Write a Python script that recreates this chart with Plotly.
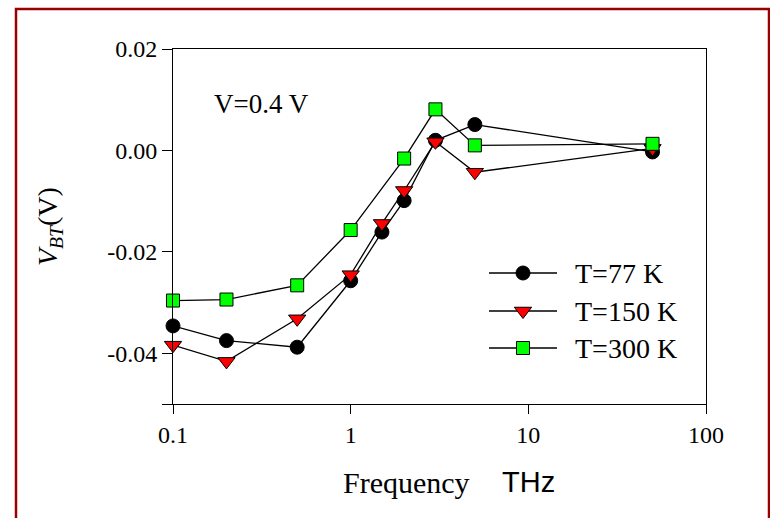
import plotly.graph_objects as go

# Frequency sweep (THz) and measured V_BT (V) at V = 0.4 V
freq_77 = [0.1, 0.2, 0.5, 1, 1.5, 2, 3, 5, 50]
vbt_77 = [-0.0346, -0.0375, -0.0388, -0.0257, -0.0161, -0.0099, 0.0020, 0.0051, -0.0003]

freq_150 = [0.1, 0.2, 0.5, 1, 1.5, 2, 3, 5, 50]
vbt_150 = [-0.0384, -0.0416, -0.0332, -0.0245, -0.0144, -0.0079, 0.0017, -0.0043, 0.0004]

freq_300 = [0.1, 0.2, 0.5, 1, 2, 3, 5, 50]
vbt_300 = [-0.0296, -0.0294, -0.0266, -0.0157, -0.0016, 0.0081, 0.0010, 0.0013]

series_names = ["T=77 K", "T=150 K", "T=300 K"]

x_tick_vals = [0.1, 1, 10, 100]
x_tick_text = ["0.1", "1", "10", "100"]
y_tick_vals = [-0.04, -0.02, 0.0, 0.02]
y_tick_text = ["-0.04", "-0.02", "0.00", "0.02"]
y_end_tick = [-0.05]

SERIF = "Liberation Serif, Times New Roman, serif"
SANS = "Liberation Sans, Arial, sans-serif"

W, H = 770, 518
L, R, T, B = 173, 64, 49, 114
PW, PH = W - L - R, H - T - B


def px_x(p):
    return (p - L) / PW


def px_y(p):
    return (H - B - p) / PH


styles = [
    dict(symbol="circle", size=14, color="black", line=dict(color="black", width=1)),
    dict(symbol="triangle-down", size=15, color="#ff0000", line=dict(color="black", width=1)),
    dict(symbol="square", size=13, color="#00ff00", line=dict(color="black", width=1)),
]

fig = go.Figure()
for xs, ys, name, st in zip([freq_77, freq_150, freq_300],
                            [vbt_77, vbt_150, vbt_300], series_names, styles):
    fig.add_trace(go.Scatter(
        x=xs, y=ys, name=name, mode="lines+markers",
        line=dict(color="black", width=1.3),
        marker=st, showlegend=False, cliponaxis=False,
    ))

# Hand-laid legend on an overlay axis measured in pixels
leg_x0, leg_x1, leg_xm, leg_text_x = 489, 557, 523, 573
leg_rows = [273, 311, 348]
for name, st, row in zip(series_names, styles, leg_rows):
    fig.add_trace(go.Scatter(
        x=[leg_x0, leg_x1], y=[row, row], mode="lines",
        line=dict(color="black", width=1.3), xaxis="x2", yaxis="y2",
        showlegend=False, hoverinfo="skip",
    ))
    fig.add_trace(go.Scatter(
        x=[leg_xm], y=[row], mode="markers", marker=st,
        xaxis="x2", yaxis="y2", showlegend=False, hoverinfo="skip",
    ))

annotations = []
for name, row in zip(series_names, leg_rows):
    annotations.append(dict(
        x=px_x(leg_text_x), y=px_y(row), xref="paper", yref="paper",
        text=name, showarrow=False, xanchor="left", yanchor="middle",
        font=dict(family=SERIF, size=28, color="black"),
    ))

annotations += [
    dict(x=px_x(212), y=px_y(104), xref="paper", yref="paper", text="V=0.4 V",
         showarrow=False, xanchor="left", yanchor="middle",
         font=dict(family=SERIF, size=27, color="black")),
    dict(x=px_x(49), y=px_y(227), xref="paper", yref="paper",
         text="<i>V</i><sub><i>BT</i></sub>(V)", textangle=-90,
         showarrow=False, xanchor="center", yanchor="middle",
         font=dict(family=SERIF, size=28, color="black")),
    dict(x=px_x(406), y=px_y(482), xref="paper", yref="paper", text="Frequency",
         showarrow=False, xanchor="center", yanchor="middle",
         font=dict(family=SERIF, size=30, color="black")),
    dict(x=px_x(528), y=px_y(482), xref="paper", yref="paper", text="THz",
         showarrow=False, xanchor="center", yanchor="middle",
         font=dict(family=SANS, size=29, color="black")),
]

axis_common = dict(
    showgrid=False, zeroline=False, showline=True, linecolor="black",
    linewidth=1, mirror=True, ticks="outside", tickcolor="black",
    tickwidth=1, tickfont=dict(family=SERIF, size=24, color="black"),
)

fig.update_layout(
    width=W, height=H,
    margin=dict(l=L, r=R, t=T, b=B),
    paper_bgcolor="white", plot_bgcolor="white",
    showlegend=False,
    xaxis=dict(type="log", range=[-1, 2], tickvals=x_tick_vals,
               ticktext=x_tick_text, ticklen=9, **axis_common),
    yaxis=dict(range=[-0.05, 0.02], tickvals=y_tick_vals,
               ticktext=y_tick_text, ticklen=10,
               minor=dict(tickvals=y_end_tick, ticks="outside", ticklen=10,
                          tickcolor="black", tickwidth=1, showgrid=False),
               **axis_common),
    xaxis2=dict(range=[L, W - R], overlaying="x", showline=False,
                showgrid=False, zeroline=False, showticklabels=False,
                ticks="", fixedrange=True),
    yaxis2=dict(range=[H - B, T], overlaying="y", showline=False,
                showgrid=False, zeroline=False, showticklabels=False,
                ticks="", fixedrange=True),
    annotations=annotations,
    shapes=[dict(type="rect", xref="paper", yref="paper",
                 x0=px_x(16), x1=px_x(769), y0=px_y(9), y1=px_y(540),
                 line=dict(color="#990000", width=2.5), layer="above")],
)

fig.write_html("out.html")
